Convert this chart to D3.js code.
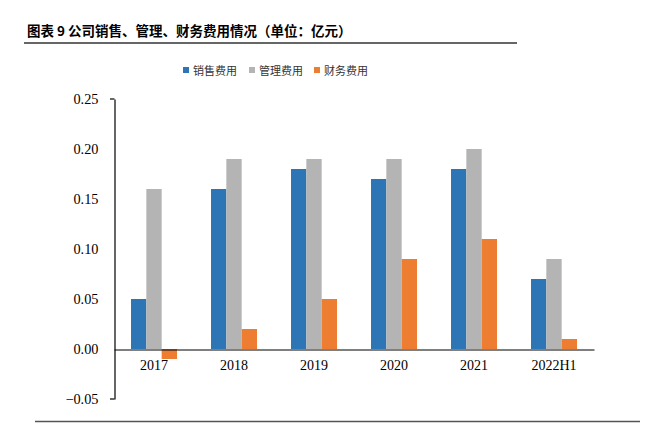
<!DOCTYPE html>
<html><head><meta charset="utf-8">
<script src="https://cdn.jsdelivr.net/npm/d3@7"></script>
<style>body{margin:0;background:#fff}svg{display:block}</style>
</head><body>
<script>
const categories = ["2017","2018","2019","2020","2021","2022H1"];
const seriesNames = ["销售费用","管理费用","财务费用"];
const sales = [0.05,0.16,0.18,0.17,0.18,0.07];
const admin = [0.16,0.19,0.19,0.19,0.20,0.09];
const finance = [-0.01,0.02,0.05,0.09,0.11,0.01];
const yTicks = [-0.05,0,0.05,0.10,0.15,0.20,0.25];
const colors = ["#2E75B6","#B4B4B4","#ED7D31"];
const seriesVals = [sales, admin, finance];

const W=655,H=446;
const svg=d3.select("body").append("svg").attr("width",W).attr("height",H);

// title
svg.append("text").attr("x",27).attr("y",36)
  .attr("font-family","'Noto Sans CJK SC'").attr("font-weight","bold").attr("font-size",13.5)
  .attr("fill","#000").text("图表 9 公司销售、管理、财务费用情况（单位：亿元）");
svg.append("line").attr("x1",24).attr("x2",517).attr("y1",43).attr("y2",43).attr("stroke","#333").attr("stroke-width",1.5);
svg.append("line").attr("x1",35).attr("x2",640).attr("y1",421.5).attr("y2",421.5).attr("stroke","#555").attr("stroke-width",1.5);

const x=d3.scaleBand().domain(categories).range([114,594]);
const y=d3.scaleLinear().domain([-0.05,0.25]).range([399,99]);
const xs=d3.scaleBand().domain(d3.range(3)).range([17,63]);

// bars
seriesVals.forEach((vals,si)=>{
  svg.append("g").selectAll("rect").data(vals).join("rect")
    .attr("x",(d,i)=>x(categories[i])+xs(si))
    .attr("width",xs.bandwidth())
    .attr("y",d=>y(Math.max(0,d)))
    .attr("height",d=>Math.abs(y(d)-y(0)))
    .attr("fill",colors[si]);
});

// y axis
const yAxis=d3.axisLeft(y).tickValues(yTicks).tickSize(0).tickPadding(16).tickFormat(d3.format(".2f"));
const gy=svg.append("g").attr("transform","translate(114.5,0)").call(yAxis);
gy.select(".domain").attr("stroke","#000").attr("stroke-width",1.2);
gy.selectAll("text").attr("font-family","'Liberation Serif'").attr("font-size",14.3).attr("fill","#000");
[y(0.25),y(-0.05)].forEach(v=>svg.append("line").attr("x1",110).attr("x2",114.5).attr("y1",v).attr("y2",v).attr("stroke","#000").attr("stroke-width",1.2));

// x axis at zero
const xAxis=d3.axisBottom(x).tickSize(0).tickPadding(11);
const gx=svg.append("g").attr("transform",`translate(0,${y(0)+0.5})`).call(xAxis);
gx.select(".domain").attr("stroke","#000").attr("stroke-width",1.2);
gx.selectAll("text").attr("font-family","'Liberation Serif'").attr("font-size",14).attr("fill","#000");

// legend
const legX=[183,249,314];
seriesNames.forEach((n,i)=>{
  svg.append("rect").attr("x",legX[i]).attr("y",67).attr("width",6).attr("height",6).attr("fill",colors[i]);
  svg.append("text").attr("x",legX[i]+10).attr("y",74.5).attr("font-family","'Noto Sans CJK SC'")
    .attr("font-size",11).attr("fill","#333").text(n);
});
</script>
</body></html>
